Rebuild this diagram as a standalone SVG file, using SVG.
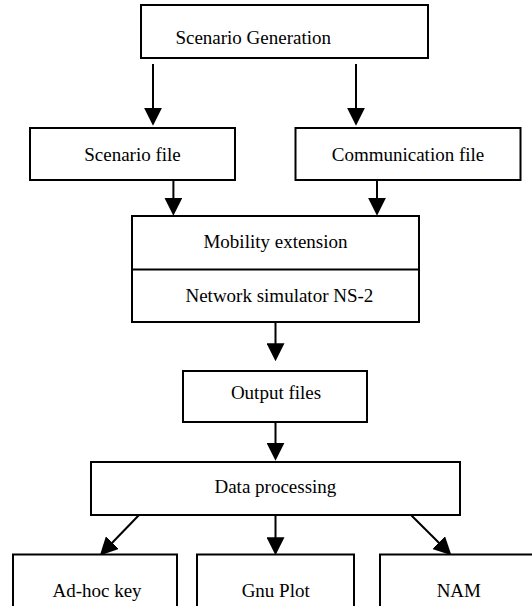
<svg xmlns="http://www.w3.org/2000/svg" width="532" height="606" viewBox="0 0 532 606">
<style>
.box{fill:#fff;stroke:#000;stroke-width:2}
.lbl{font-family:'Liberation Serif','Times New Roman','DejaVu Serif','Noto Serif',serif;font-size:19px;fill:#000}
.c{text-anchor:middle}
.con{stroke:#000;stroke-width:2;fill:none;marker-end:url(#ah)}
</style>
<defs>
<marker id="ah" markerUnits="userSpaceOnUse" markerWidth="18" markerHeight="18" refX="13" refY="8.5" orient="auto" viewBox="0 0 17 17">
<path d="M0,0 L17,8.5 L0,17 z" fill="#000"/>
</marker>
</defs>
<rect x="0" y="0" width="532" height="606" fill="#fff"/>
<g id="connectors">
<line class="con" x1="153" y1="64" x2="153" y2="121.5"/>
<line class="con" x1="356" y1="64" x2="356" y2="121.5"/>
<line class="con" x1="173.4" y1="180" x2="173.4" y2="211.5"/>
<line class="con" x1="377" y1="180" x2="377" y2="211.5"/>
<line class="con" x1="275.5" y1="322" x2="275.5" y2="357"/>
<line class="con" x1="275.5" y1="422" x2="275.5" y2="456.5"/>
<line class="con" x1="139" y1="515" x2="102.8" y2="552.5"/>
<line class="con" x1="275.5" y1="515" x2="275.5" y2="551"/>
<line class="con" x1="411" y1="515" x2="448.4" y2="552.3"/>
</g>
<g id="scenario-generation">
<rect class="box" x="141" y="5" width="287" height="53"/>
<text class="lbl" x="175.4" y="44" font-family="Liberation Serif, serif">Scenario Generation</text>
</g>
<g id="scenario-file">
<rect class="box" x="30" y="128" width="205" height="52"/>
<text class="lbl c" x="132.5" y="160.5">Scenario file</text>
</g>
<g id="communication-file">
<rect class="box" x="295.5" y="128" width="225" height="52"/>
<text class="lbl c" x="408" y="160.5">Communication file</text>
</g>
<g id="ns2">
<rect class="box" x="132" y="216" width="287" height="106"/>
<line x1="132" y1="269.6" x2="419" y2="269.6" stroke="#000" stroke-width="2"/>
<text class="lbl c" x="275.5" y="247.5">Mobility extension</text>
<text class="lbl c" x="279.4" y="301.8">Network simulator NS-2</text>
</g>
<g id="output-files">
<rect class="box" x="183" y="371" width="184" height="51"/>
<text class="lbl c" x="276" y="399.3">Output files</text>
</g>
<g id="data-processing">
<rect class="box" x="91" y="462" width="369" height="53"/>
<text class="lbl c" x="275.4" y="493.3">Data processing</text>
</g>
<g id="adhoc-key">
<rect class="box" x="13" y="554.5" width="164" height="60"/>
<text class="lbl c" x="97" y="597">Ad-hoc key</text>
</g>
<g id="gnu-plot">
<rect class="box" x="197" y="554.5" width="157" height="60"/>
<text class="lbl c" x="275.7" y="597">Gnu Plot</text>
</g>
<g id="nam">
<rect class="box" x="380" y="554.5" width="160" height="60"/>
<text class="lbl c" x="458.8" y="597">NAM</text>
</g>
</svg>
